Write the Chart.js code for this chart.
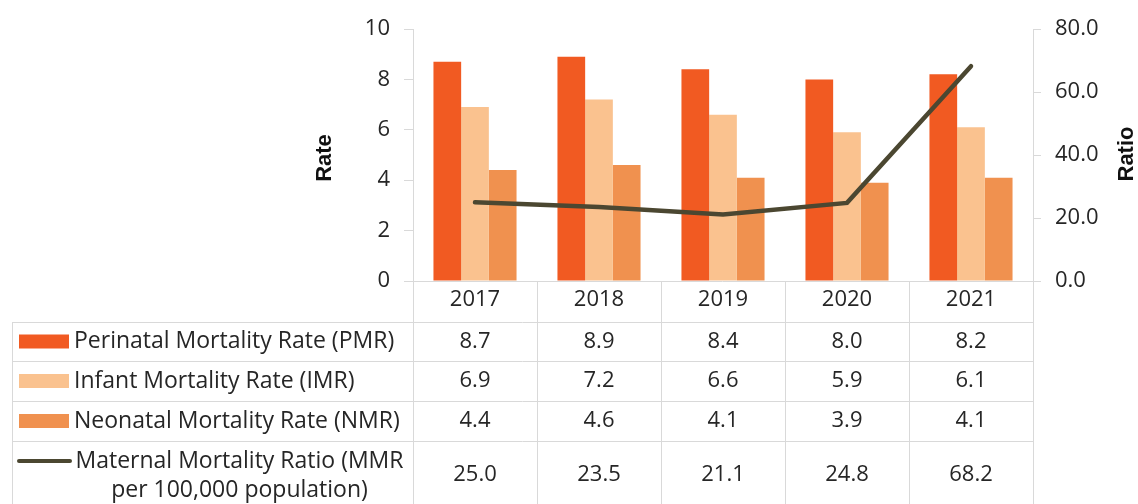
<!DOCTYPE html>
<html>
<head>
<meta charset="utf-8">
<script src="https://cdn.jsdelivr.net/npm/chart.js"></script>
<style>
  html, body { margin: 0; padding: 0; background: #fff; }
  #wrap { width: 1138px; height: 504px; }
</style>
</head>
<body>
<div id="wrap"><canvas id="mortalityChart" width="1138" height="504"></canvas></div>
<script>
// Data
const years = ['2017', '2018', '2019', '2020', '2021'];
const pmr = [8.7, 8.9, 8.4, 8.0, 8.2];
const imr = [6.9, 7.2, 6.6, 5.9, 6.1];
const nmr = [4.4, 4.6, 4.1, 3.9, 4.1];
const mmr = [25.0, 23.5, 21.1, 24.8, 68.2];
const seriesLabels = [
    'Perinatal Mortality Rate (PMR)',
    'Infant Mortality Rate (IMR)',
    'Neonatal Mortality Rate (NMR)',
    'Maternal Mortality Ratio (MMR per 100,000 population)'
];
const seriesColors = ['#F15A22', '#FAC28F', '#F0914F', '#4B4731'];

const textColor = '#262626';
const lineColor = '#d9d9d9';
const numFont = '22px "Open Sans"';
const labelFont = '23px "Open Sans"';

// wrap a label into lines that fit maxWidth
function wrapText(ctx, text, maxWidth) {
    const words = text.split(' ');
    const lines = [];
    let line = '';
    for (const w of words) {
        const test = line ? line + ' ' + w : w;
        if (ctx.measureText(test).width > maxWidth && line) {
            lines.push(line);
            line = w;
        } else {
            line = test;
        }
    }
    lines.push(line);
    return lines;
}

// Draws the axis titles and the data table under the plot
const dataTablePlugin = {
    id: 'dataTable',
    afterDraw(chart) {
        const { ctx, chartArea } = chart;
        const left = chartArea.left, right = chartArea.right, base = chartArea.bottom;
        const colW = (right - left) / years.length;
        const rowTops = [base, base + 41, base + 80, base + 120, base + 160];
        const tableLeft = 12;
        const tableBottom = chart.height + 6;

        ctx.save();

        // Axis titles
        ctx.fillStyle = '#111';
        ctx.font = 'bold 22px "Liberation Sans"';
        ctx.textAlign = 'center';
        ctx.textBaseline = 'middle';
        const midY = (chartArea.top + chartArea.bottom) / 2;
        [['Rate', left - 88, midY + 3], ['Ratio', right + 94, midY - 1]].forEach(([t, x, y]) => {
            ctx.save();
            ctx.translate(x, y);
            ctx.rotate(-Math.PI / 2);
            ctx.fillText(t, 0, 0);
            ctx.restore();
        });

        // Grid lines
        ctx.strokeStyle = lineColor;
        ctx.lineWidth = 1;
        ctx.beginPath();
        ctx.moveTo(left - 9, base + 0.5);
        ctx.lineTo(right + 8, base + 0.5);
        for (let r = 1; r < rowTops.length; r++) {
            ctx.moveTo(tableLeft, rowTops[r] + 0.5);
            ctx.lineTo(right, rowTops[r] + 0.5);
        }
        for (let i = 0; i <= years.length; i++) {
            const x = Math.round(left + i * colW) + 0.5;
            ctx.moveTo(x, base);
            ctx.lineTo(x, tableBottom);
        }
        ctx.moveTo(tableLeft + 0.5, rowTops[1]);
        ctx.lineTo(tableLeft + 0.5, tableBottom);
        ctx.stroke();

        // Header years
        ctx.fillStyle = textColor;
        ctx.font = numFont;
        ctx.textAlign = 'center';
        ctx.textBaseline = 'middle';
        years.forEach((y, i) => {
            ctx.fillText(y, left + (i + 0.5) * colW, base + 19);
        });

        // Series rows
        const allData = [pmr, imr, nmr, mmr];
        allData.forEach((data, r) => {
            const top = rowTops[r + 1];
            const bottom = r + 2 < rowTops.length ? rowTops[r + 2] : top + 68;
            const cy = (top + bottom) / 2;

            ctx.font = numFont;
            ctx.textAlign = 'center';
            ctx.fillStyle = textColor;
            data.forEach((v, i) => {
                ctx.fillText(v.toFixed(1), left + (i + 0.5) * colW, cy);
            });

            // legend key + label
            ctx.font = labelFont;
            const lines = wrapText(ctx, seriesLabels[r], left - 82);
            if (r < 3) {
                ctx.fillStyle = seriesColors[r];
                ctx.fillRect(19, cy - 7, 50, 14);
                ctx.fillStyle = textColor;
                ctx.textAlign = 'left';
                ctx.fillText(lines[0], 74, cy);
            } else {
                const firstY = top + 20;
                ctx.strokeStyle = seriesColors[r];
                ctx.lineWidth = 4;
                ctx.lineCap = 'round';
                ctx.beginPath();
                ctx.moveTo(19, firstY);
                ctx.lineTo(70, firstY);
                ctx.stroke();
                ctx.fillStyle = textColor;
                ctx.textAlign = 'center';
                const cx = (74 + left - 8) / 2;
                lines.forEach((ln, k) => ctx.fillText(ln, cx, firstY + k * 29));
            }
        });

        ctx.restore();
    }
};

const canvas = document.getElementById('mortalityChart');
const chart = new Chart(canvas.getContext('2d'), {
    type: 'bar',
    data: {
        labels: years,
        datasets: [
            {
                type: 'line',
                label: seriesLabels[3],
                data: mmr,
                yAxisID: 'y1',
                borderColor: seriesColors[3],
                borderWidth: 4.5,
                borderCapStyle: 'round',
                pointRadius: 0,
                tension: 0,
                order: 0
            },
            { label: seriesLabels[0], data: pmr, backgroundColor: seriesColors[0], yAxisID: 'y', order: 1 },
            { label: seriesLabels[1], data: imr, backgroundColor: seriesColors[1], yAxisID: 'y', order: 1 },
            { label: seriesLabels[2], data: nmr, backgroundColor: seriesColors[2], yAxisID: 'y', order: 1 }
        ]
    },
    options: {
        responsive: false,
        animation: false,
        layout: { padding: { top: 29, bottom: 223, left: 0, right: 0 } },
        datasets: {
            bar: { barPercentage: 1, categoryPercentage: 0.67 }
        },
        scales: {
            x: { display: false },
            y: {
                position: 'left',
                min: 0,
                max: 10,
                ticks: { stepSize: 2, color: textColor, font: { family: 'Open Sans', size: 22 }, padding: 14 },
                grid: { drawOnChartArea: false, drawTicks: true, tickLength: 9, color: lineColor },
                border: { color: lineColor },
                afterFit(scale) { scale.width = 413; }
            },
            y1: {
                position: 'right',
                min: 0,
                max: 80,
                ticks: {
                    stepSize: 20,
                    color: textColor,
                    font: { family: 'Open Sans', size: 22 },
                    padding: 14,
                    callback: (v) => v.toFixed(1)
                },
                grid: { drawOnChartArea: false, drawTicks: true, tickLength: 8, color: lineColor },
                border: { color: lineColor },
                afterFit(scale) { scale.width = 105; }
            }
        },
        plugins: {
            legend: { display: false },
            tooltip: { enabled: false }
        }
    },
    plugins: [dataTablePlugin]
});
</script>
</body>
</html>
